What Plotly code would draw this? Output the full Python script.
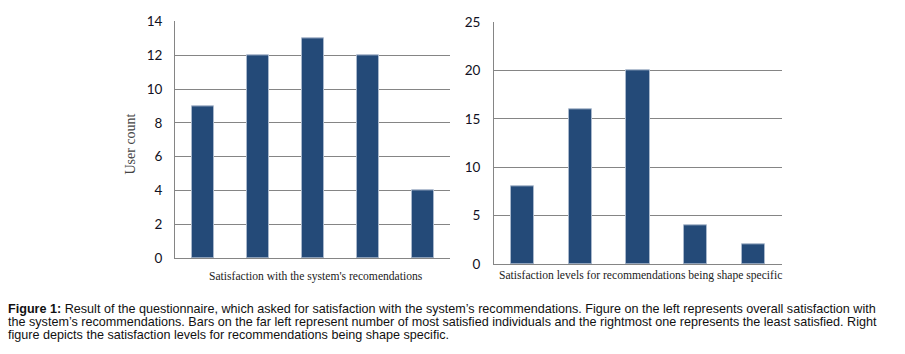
import plotly.graph_objects as go

W, H = 905, 354

categories = [1, 2, 3, 4, 5]
left_values = [9, 12, 13, 12, 4]
right_values = [8, 16, 20, 4, 2]
left_ticks = [0, 2, 4, 6, 8, 10, 12, 14]
right_ticks = [0, 5, 10, 15, 20, 25]
left_title = "Satisfaction with the system's recomendations"
right_title = "Satisfaction levels for recommendations being shape specific"
y_title = "User count"
caption_lines = [
    "<b>Figure 1:</b> Result of the questionnaire, which asked for satisfaction with the system’s recommendations. Figure on the left represents overall satisfaction with",
    "the system’s recommendations. Bars on the far left represent number of most satisfied individuals and the rightmost one represents the least satisfied. Right",
    "figure depicts the satisfaction levels for recommendations being shape specific.",
]

BAR = "#244a78"
GRID = "#858585"

def px_x(p):
    return p / W

def px_y(p):
    return 1 - p / H

fig = go.Figure()
fig.add_trace(go.Bar(x=categories, y=left_values, width=0.4, marker=dict(color=BAR, line=dict(color="#a9b8cc", width=1)),
                     xaxis="x", yaxis="y", showlegend=False))
fig.add_trace(go.Bar(x=categories, y=right_values, width=0.4, marker=dict(color=BAR, line=dict(color="#a9b8cc", width=1)),
                     xaxis="x2", yaxis="y2", showlegend=False))

tickfont = dict(family="Lato, Liberation Sans, sans-serif", size=13.5, color="#111122")

common_y = dict(showgrid=True, gridcolor=GRID, gridwidth=1, showline=True, linecolor=GRID, linewidth=1,
                ticks="", tickfont=tickfont, zeroline=False, fixedrange=True)
common_x = dict(showgrid=False, showticklabels=False, ticks="", showline=True, linecolor=GRID, linewidth=1,
                zeroline=False, range=[0.5, 5.5])

fig.update_layout(
    width=W, height=H, margin=dict(l=0, r=0, t=0, b=0),
    paper_bgcolor="white", plot_bgcolor="white", bargap=0,
    xaxis=dict(domain=[px_x(175), px_x(450)], anchor="y", **common_x),
    yaxis=dict(domain=[px_y(262), px_y(14)], anchor="x", range=[0, 14], tickvals=left_ticks,
               ticklabelstandoff=9, **common_y),
    xaxis2=dict(domain=[px_x(494), px_x(782)], anchor="y2", **common_x),
    yaxis2=dict(domain=[px_y(268), px_y(15)], anchor="x2", range=[0, 25], tickvals=right_ticks,
                ticklabelstandoff=10, **common_y),
)

serif = dict(family="Liberation Serif, Times New Roman, serif", size=11.6, color="#222222")
anns = [
    dict(x=px_x(316), y=px_y(281), text=left_title, font=serif),
    dict(x=px_x(640), y=px_y(280), text=right_title, font=serif),
    dict(x=px_x(131), y=px_y(143), text=y_title, font=dict(family="Liberation Serif, serif", size=14, color="#444444"), textangle=-90),
]
cap_font = dict(family="Liberation Sans, Arial, sans-serif", size=12.6, color="#111111")
for i, (line, yy) in enumerate(zip(caption_lines, [315, 329, 343])):
    anns.append(dict(x=px_x(6), y=px_y(yy), text=line, font=cap_font, xanchor="left"))

for a in anns:
    a.setdefault("xanchor", "center")
    a.update(xref="paper", yref="paper", yanchor="middle", showarrow=False)
fig.update_layout(annotations=anns)

fig.write_html("out.html")
